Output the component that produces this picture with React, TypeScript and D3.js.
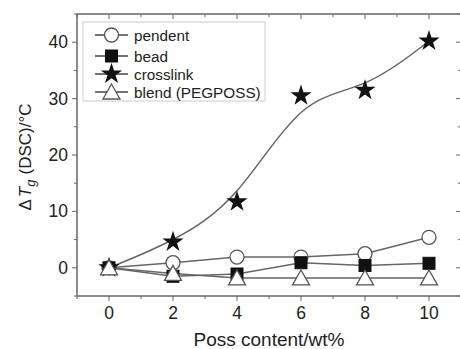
import React from "react";
import * as d3 from "d3";

const xValues = [0, 2, 4, 6, 8, 10];
const pendent = [0, 0.9, 1.9, 1.9, 2.5, 5.4];
const bead = [0, -1.5, -1.1, 0.9, 0.4, 0.8];
const crosslink = [0, 4.6, 11.7, 30.5, 31.5, 40.2];
const blend = [0, -1.0, -1.8, -1.8, -1.8, -1.8];
const xTicks = [0, 2, 4, 6, 8, 10];
const yTicks = [0, 10, 20, 30, 40];
const legendLabels = ["pendent", "bead", "crosslink", "blend (PEGPOSS)"];

const W = 460, H = 349;
const m = { left: 77, top: 14, right: 461, bottom: 296 };
const FONT = "Liberation Sans, Arial, sans-serif";
const LINE = "#666";

function Marker({ type, x, y }: { type: string; x: number; y: number }) {
  if (type === "circle")
    return <circle cx={x} cy={y} r={7} fill="#fff" stroke="#555" strokeWidth={1.3} />;
  if (type === "square")
    return <rect x={x - 6} y={y - 6} width={12} height={12} fill="#111" stroke="#111" />;
  if (type === "star") {
    const sym = d3.symbol(d3.symbolStar, 140)();
    return <path d={sym as string} transform={`translate(${x},${y})`} fill="#111" />;
  }
  const h = 14, w = 17;
  return (
    <path
      d={`M${x},${y - h / 2 - 1} L${x + w / 2},${y + h / 2} L${x - w / 2},${y + h / 2} Z`}
      fill="#fff"
      stroke="#555"
      strokeWidth={1.3}
    />
  );
}

export default function App() {
  const x = d3.scaleLinear().domain([-1, 11]).range([m.left, m.right]);
  const y = d3.scaleLinear().domain([-5, 45]).range([m.bottom, m.top]);
  const lin = d3.line<[number, number]>().x(d => x(d[0])).y(d => y(d[1]));
  const smooth = d3.line<[number, number]>().x(d => x(d[0])).y(d => y(d[1])).curve(d3.curveBasis);
  const pts = (arr: number[]) => xValues.map((v, i) => [v, arr[i]] as [number, number]);

  const xMinor = d3.range(-1, 11.01, 1);
  const yMinor = d3.range(-5, 45.01, 5);

  const series = [
    { data: pendent, type: "circle", smooth: false },
    { data: bead, type: "square", smooth: false },
    { data: crosslink, type: "star", smooth: true },
    { data: blend, type: "triangle", smooth: false },
  ];
  const legendY = [35, 56, 74, 92];

  return (
    <svg width={W} height={H} style={{ position: "absolute", left: 0, top: 0, background: "#fff" }}>
      {/* frame */}
      <line x1={m.left} x2={m.right} y1={m.top} y2={m.top} stroke="#666" strokeWidth={1.5} />
      <line x1={m.left} x2={m.right} y1={m.bottom} y2={m.bottom} stroke="#666" strokeWidth={1.5} />
      <line x1={m.left} x2={m.left} y1={m.top} y2={m.bottom} stroke="#666" strokeWidth={1.5} />
      <line x1={m.right} x2={m.right} y1={m.top} y2={m.bottom} stroke="#666" strokeWidth={1.5} />

      {/* x ticks */}
      {xMinor.map(v => {
        const major = xTicks.includes(v);
        const len = major ? 5 : 3;
        return (
          <g key={"xt" + v}>
            <line x1={x(v)} x2={x(v)} y1={m.bottom} y2={m.bottom + len} stroke="#666" />
            <line x1={x(v)} x2={x(v)} y1={m.top} y2={m.top + len} stroke="#666" />
          </g>
        );
      })}
      {xTicks.map(v => (
        <text key={"xl" + v} x={x(v)} y={m.bottom + 23} textAnchor="middle" fontFamily={FONT} fontSize={17.5} fill="#222">
          {v}
        </text>
      ))}
      {/* y ticks */}
      {yMinor.map(v => {
        const major = yTicks.includes(v);
        const len = major ? 5 : 3;
        return (
          <g key={"yt" + v}>
            <line x1={m.left - len} x2={m.left} y1={y(v)} y2={y(v)} stroke="#666" />
            <line x1={m.right - len} x2={m.right} y1={y(v)} y2={y(v)} stroke="#666" />
          </g>
        );
      })}
      {yTicks.map(v => (
        <text key={"yl" + v} x={m.left - 9} y={y(v) + 6} textAnchor="end" fontFamily={FONT} fontSize={17.5} fill="#222">
          {v}
        </text>
      ))}

      {/* axis titles */}
      <text x={269} y={346} textAnchor="middle" fontFamily={FONT} fontSize={19} fill="#222">
        Poss content/wt%
      </text>
      <text transform="translate(31,157) rotate(-90)" textAnchor="middle" fontFamily={FONT} fontSize={17} fill="#222">
        <tspan>Δ</tspan>
        <tspan fontStyle="italic" dx={2}>T</tspan>
        <tspan fontStyle="italic" fontSize={13} dy={4}>g</tspan>
        <tspan dy={-4} dx={5}>(DSC)/°C</tspan>
      </text>

      {/* lines */}
      {series.map((s, i) => (
        <path key={"l" + i} d={(s.smooth ? smooth : lin)(pts(s.data)) as string} fill="none" stroke={LINE} strokeWidth={1.5} />
      ))}
      {/* markers */}
      {series.map((s, i) => (
        <g key={"m" + i}>
          {s.data.map((v, j) => (
            <Marker key={j} type={s.type} x={x(xValues[j])} y={y(v)} />
          ))}
        </g>
      ))}

      {/* legend */}
      <rect x={83} y={22} width={182} height={79} fill="#fff" stroke="#ccc" strokeWidth={1} />
      {series.map((s, i) => (
        <g key={"lg" + i}>
          <line x1={95} x2={128} y1={legendY[i]} y2={legendY[i]} stroke="#444" strokeWidth={1.5} />
          <Marker type={s.type} x={111.5} y={legendY[i]} />
          <text x={134} y={legendY[i] + 5.5} fontFamily={FONT} fontSize={15.3} fill="#222">
            {legendLabels[i]}
          </text>
        </g>
      ))}
    </svg>
  );
}
